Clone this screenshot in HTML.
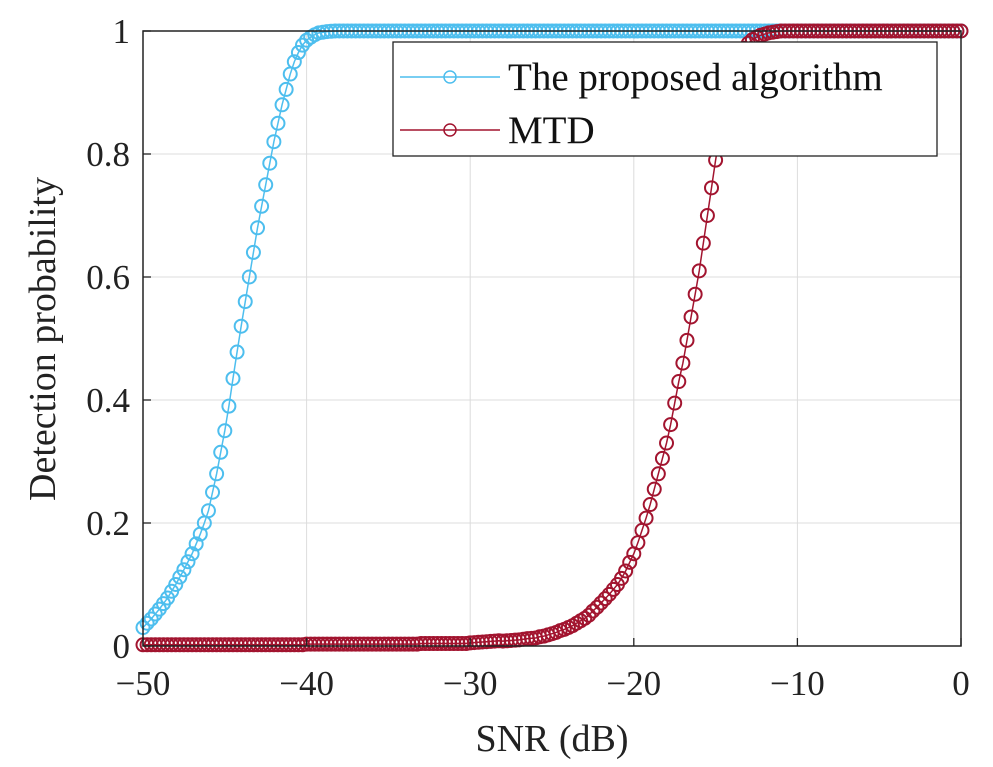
<!DOCTYPE html>
<html><head><meta charset="utf-8"><style>
html,body{margin:0;padding:0;background:#fff;}
svg{display:block;font-family:"Liberation Serif",serif;}
</style></head><body>
<svg id="chart" width="993" height="767" viewBox="0 0 993 767" xmlns="http://www.w3.org/2000/svg">
<g id="grid"></g>
<g id="series"></g>
<rect x="143" y="31" width="818" height="615" fill="none" stroke="#222" stroke-width="1.5"/>
<g id="ticks"></g>
<text x="552" y="751" font-size="38" text-anchor="middle" fill="#222">SNR (dB)</text>
<text transform="translate(55,339) rotate(-90)" font-size="38" text-anchor="middle" fill="#222">Detection probability</text>
<g>
<rect x="393" y="42" width="544" height="114" fill="#fff" stroke="#222" stroke-width="1.3"/>
<g>
<line x1="400" y1="77" x2="500" y2="77" stroke="#4DBEEE" stroke-width="1.5"/>
<circle cx="450" cy="77" r="6" fill="none" stroke="#4DBEEE" stroke-width="1.5"/>
<text x="508" y="90" font-size="39" fill="#111">The proposed algorithm</text>
</g>
<g>
<line x1="400" y1="130" x2="500" y2="130" stroke="#A2142F" stroke-width="1.5"/>
<circle cx="450" cy="130" r="6" fill="none" stroke="#A2142F" stroke-width="1.5"/>
<text x="508" y="143" font-size="39" fill="#111">MTD</text>
</g>
</g>
</svg>
<script>
const xTicks = [-50, -40, -30, -20, -10, 0];
const xTickLabels = ["\u221250", "\u221240", "\u221230", "\u221220", "\u221210", "0"];
const yTicks = [0, 0.2, 0.4, 0.6, 0.8, 1];
const yTickLabels = ["0", "0.2", "0.4", "0.6", "0.8", "1"];
const snrStart = -50;
const snrStep = 0.25;
const proposedValues = [
.03,.037,.044,.052,
.06,.069,.078,.089,
.10,.112,.124,.137,
.15,.166,.182,.20,
.22,.25,.28,.315,
.35,.39,.435,.478,
.52,.56,.60,.64,
.68,.715,.75,.785,
.82,.85,.88,.905,
.93,.95,.965,.977,
.985,.99,.994,.997,
.998,.999,.9995,1,
1,
1,1,1,1,1,1,1,1,1,1,
1,1,1,1,1,1,1,1,1,1,
1,1,1,1,1,1,1,1,1,1,
1,1,1,1,1,1,1,1,1,1,
1,1,1,1,1,1,1,1,1,1,
1,1,1,1,1,1,1,1,1,1,
1,1,1,1,1,1,1,1,1,1,
1,1,1,1,1,1,1,1,1,1,
1,1,1,1,1,1,1,1,1,1,
1,1,1,1,1,1,1,1,1,1,
1,1,1,1,1,1,1,1,1,1,
1,1,1,1,1,1,1,1,1,1,
1,1,1,1,1,1,1,1,1,1,
1,1,1,1,1,1,1,1,1,1,
1,1,1,1,1,1,1,1,1,1,
1,1
];
const mtdValues = [
.002,.002,.002,.002,.002,.002,.002,.002,.002,.002,.002,.002,.002,.002,.002,.002,.002,.002,.002,.002,
.002,.002,.002,.002,.002,.002,.002,.002,.002,.002,.002,.002,.002,.002,.002,.002,.002,.002,.002,.002,
.003,.003,.003,.003,.003,.003,.003,.003,.003,.003,.003,.003,.003,.003,.003,.003,.003,.003,.003,.003,
.003,.003,.003,.003,.003,.003,.003,.003,.004,.004,.004,.004,.004,.004,.004,.004,.004,.004,.004,.004,
.005,.0055,.006,.0065,
.007,.0075,.008,.0085,
.008,.0085,.009,.0095,
.010,.011,.012,.0125,
.013,.015,.016,.018,
.02,.022,.025,.027,
.03,.033,.037,.041,
.045,.05,.057,.063,
.07,.077,.084,.092,
.10,.11,.122,.136,
.15,.168,.188,.208,
.23,.255,.28,.305,
.33,.36,.395,.43,
.46,.497,.535,.572,
.61,.655,.70,.745,
.79,.83,.87,.90,
.93,.948,.962,.972,
.98,.986,.99,.993,
.995,.997,.998,.999,
1,1,1,1,1,1,1,1,1,
1,1,1,1,1,1,1,1,1,
1,1,1,1,1,1,1,1,1,
1,1,1,1,1,1,1,1,1,
1,1,1,1,1,1,1,1,1
];
const NS = "http://www.w3.org/2000/svg";
const X0 = 143, X1 = 961, Y0 = 646, Y1 = 31;
function xScale(v){ return X0 + (v - (-50)) / 50 * (X1 - X0); }
function yScale(v){ return Y0 - v * (Y0 - Y1); }
function mk(tag, attrs, parent){ const e = document.createElementNS(NS, tag); for (const k in attrs) e.setAttribute(k, attrs[k]); parent.appendChild(e); return e; }
const grid = document.getElementById("grid");
const ticks = document.getElementById("ticks");
xTicks.forEach((t, i) => {
  const x = xScale(t);
  if (i > 0 && i < xTicks.length - 1) {
    const g = mk("line", {x1:x, y1:Y1, x2:x, y2:Y0, stroke:"#dcdcdc", "stroke-width":1}, grid);
    
    
  }
  const tk = mk("line", {x1:x, y1:Y0, x2:x, y2:Y0-8, stroke:"#222", "stroke-width":1.3}, ticks);
  
  
  const lb = mk("text", {x:x, y:695, "font-size":35, "text-anchor":"middle", fill:"#222"}, ticks);
  lb.textContent = xTickLabels[i];
  
  
});
yTicks.forEach((t, i) => {
  const y = yScale(t);
  if (i > 0 && i < yTicks.length - 1) {
    const g = mk("line", {x1:X0, y1:y, x2:X1, y2:y, stroke:"#dcdcdc", "stroke-width":1}, grid);
    
    
  }
  const tk = mk("line", {x1:X0, y1:y, x2:X0+8, y2:y, stroke:"#222", "stroke-width":1.3}, ticks);
  
  
  const lb = mk("text", {x:130, y:y+12, "font-size":35, "text-anchor":"end", fill:"#222"}, ticks);
  lb.textContent = yTickLabels[i];
  
  
});
const seriesG = document.getElementById("series");
function drawSeries(values, color, name){
  const g = mk("g", {}, seriesG);
  
  
  const pts = values.map((v, i) => xScale(snrStart + i * snrStep).toFixed(2) + "," + yScale(v).toFixed(2)).join(" ");
  const pl = mk("polyline", {points:pts, fill:"none", stroke:color, "stroke-width":1.5}, g);
  
  
  values.forEach((v, i) => {
    const c = mk("circle", {cx:xScale(snrStart + i * snrStep), cy:yScale(v), r:6.5, fill:"none", stroke:color, "stroke-width":2}, g);
    
    
  });
}
drawSeries(proposedValues, "#4DBEEE", "proposed-series");
drawSeries(mtdValues, "#A2142F", "mtd-series");
</script>
</body></html>
